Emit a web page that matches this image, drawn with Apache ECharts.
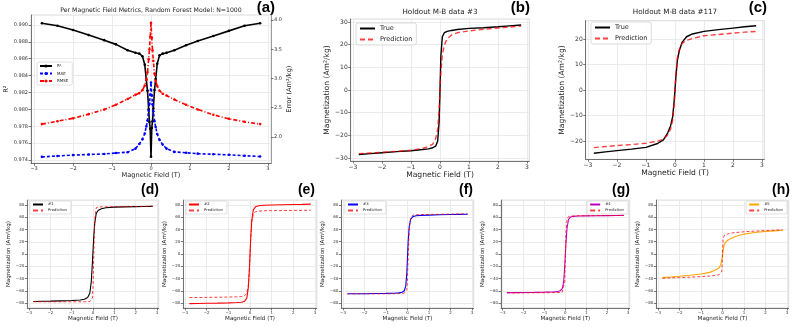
<!DOCTYPE html>
<html>
<head>
<meta charset="utf-8">
<script src="https://cdn.jsdelivr.net/npm/echarts@6/dist/echarts.min.js"></script>
<style>
  html, body { margin: 0; padding: 0; background: #fff; }
  #main { width: 793px; height: 327px; }
</style>
</head>
<body>
<div id="main"></div>
<script>
'use strict'
// ---- data ----
var fieldA = [-2.8,-2.4,-2,-1.6,-1.2,-0.9,-0.6,-0.4,-0.3,-0.22,-0.16,-0.12,-0.09,-0.06,-0.04,-0.02,0,
              0.02,0.04,0.06,0.09,0.12,0.16,0.22,0.3,0.4,0.6,0.9,1.2,1.6,2,2.4,2.8];
var r2   = [0.9902,0.9899,0.9894,0.9888,0.9882,0.9877,0.9870,0.9867,0.9866,0.9863,0.9853,0.9835,0.9822,0.9800,0.9785,0.9777,0.9744,
            0.9778,0.9786,0.9801,0.9823,0.9836,0.9854,0.9864,0.9866,0.9867,0.9870,0.9876,0.9881,0.9887,0.9893,0.9899,0.9902];
var mae  = [1.66,1.675,1.69,1.70,1.71,1.725,1.74,1.80,1.88,1.96,2.06,2.18,2.28,2.45,2.57,2.72,2.93,
            2.71,2.56,2.44,2.27,2.17,2.05,1.95,1.87,1.80,1.745,1.73,1.715,1.705,1.695,1.68,1.665];
var rmse = [2.22,2.27,2.32,2.39,2.47,2.55,2.65,2.72,2.75,2.80,2.88,2.98,3.10,3.33,3.50,3.71,3.95,
            3.70,3.48,3.30,3.08,2.96,2.87,2.79,2.74,2.71,2.64,2.55,2.47,2.38,2.31,2.26,2.22];

var field = [-2.8,-2.4,-2,-1.5,-1,-0.6,-0.4,-0.25,-0.15,-0.08,-0.03,0,0.03,0.08,0.15,0.25,0.4,0.6,1,1.5,2,2.4,2.8];
var true3   = [-28.5,-28.1,-27.7,-27.2,-26.8,-26.3,-26.0,-25.5,-24.8,-22.5,-14,0,15,23.5,25.3,25.9,26.3,26.7,27.2,27.5,27.9,28.3,28.7];
var pred3   = [-28.1,-27.8,-27.5,-27.1,-26.6,-25.8,-25.0,-23.9,-21.5,-17.5,-9,0,8,15.5,19.8,22.7,24.3,25.3,26.1,26.8,27.4,27.8,28.2];
var true117 = [-24.8,-24.3,-23.8,-23.2,-22.5,-21.0,-19.6,-16.8,-14.0,-10.5,-4.5,0,5,11.5,15.5,18.8,20.9,22.0,23.0,23.7,24.3,24.8,25.2];
var pred117 = [-22.6,-22.2,-21.8,-21.4,-20.9,-20.1,-19.3,-17.6,-15.2,-11.8,-5.5,0,6,12.5,16,18.4,19.5,20.2,21.3,21.8,22.3,22.7,23.0];
var m1 = [-77.5,-77.2,-77,-76.5,-76,-75,-74,-71,-64,-45,-15,5,25,50,66,71.5,74,75.5,76.5,77,77.3,77.5,77.8];
var p1 = [-78,-78,-78,-78,-78,-78,-78,-77.8,-77.5,-76.5,-72,-55,-10,55,75.5,76.8,77,77,77.2,77.4,77.6,77.8,78];
var m2 = [-81,-80.8,-80.5,-80.2,-79.8,-79.3,-78.7,-77,-72,-55,-25,0,25,55,72,77,78.8,79.5,80,80.5,80.8,81,81.5];
var p2 = [-71,-71,-70.8,-70.6,-70.3,-70,-69.5,-68,-64,-52,-25,0,25,52,65,69,70,70.5,70.8,71,71.2,71.3,71.5];
var m3 = [-65,-65,-64.8,-64.6,-64.3,-64,-63.5,-62.5,-60,-52,-30,-5,20,45,57,61,62.5,63,63.5,64,64.4,64.7,65];
var p3 = [-65,-65,-65,-65,-65,-64.8,-64.6,-64.3,-63.8,-62.5,-58,-40,-5,40,60,63.5,64,64.3,64.6,64.9,65.1,65.3,65.5];
var m4 = [-63,-63,-62.8,-62.6,-62.3,-62,-61.5,-60,-57,-45,-20,0,18,42,56,60.5,61.5,62,62.3,62.5,62.7,62.8,63];
var p4 = [-63.5,-63.5,-63.4,-63.3,-63.2,-63.1,-63,-62.8,-62.5,-60,-45,-5,35,57,61,62,62.2,62.4,62.5,62.6,62.7,62.8,63];
var m5 = [-38.5,-37.5,-36.3,-34.7,-32.7,-30,-27.5,-25,-22,-17,-9,-2,6,15,19.5,22.5,25.5,28.5,32.5,35,36.8,37.8,38.8];
var p5 = [-39.5,-39,-38.5,-37.8,-37,-36,-35.3,-34.5,-33.5,-32,-28,0,26,30,31.5,32.8,34,35,36.3,37.3,38.2,38.8,39.5];

// tick labels
var fieldTicks  = [-3,-2,-1,0,1,2,3];
var r2Ticks     = [0.974,0.976,0.978,0.980,0.982,0.984,0.986,0.988,0.990];
var errTicks    = [2.0,2.5,3.0,3.5,4.0];
var mb3Ticks    = [-30,-20,-10,0,10,20,30];
var mb117Ticks  = [-20,-10,0,10,20];
var smallTicks  = [-80,-60,-40,-20,0,20,40,60,80];

var FONT = 'DejaVu Sans';
var MAG = 'Magnetization (Am\u00b2/kg)';

function minus(v){ return v < 0 ? '\u2212' + Math.abs(v) : String(v); }
function pts(xs, ys){ return xs.map(function(x, i){ return [x, ys[i]]; }); }

function xAx(gi, fs, gap){
    return {
        type: 'value', gridIndex: gi, min: -3.08, max: 3.08,
        name: 'Magnetic Field (T)', nameLocation: 'middle', nameGap: gap,
        nameTextStyle: {fontFamily: FONT, fontSize: fs + 1.6, color: '#222'},
        axisLine: {onZero: false, lineStyle: {color: '#555', width: 0.8}},
        axisTick: {show: true, customValues: fieldTicks, length: 2.5, lineStyle: {color: '#555', width: 0.8}},
        axisLabel: {customValues: fieldTicks, formatter: minus, fontFamily: FONT, fontSize: fs, color: '#333', margin: 3},
        splitLine: {show: true, lineStyle: {color: '#e6e6e6', width: 0.8}}
    };
}
function yAx(gi, lo, hi, ticks, fs, name, gap, fmt){
    return {
        type: 'value', gridIndex: gi, min: lo, max: hi,
        name: name, nameLocation: 'middle', nameGap: gap,
        nameTextStyle: {fontFamily: FONT, fontSize: fs + 1.6, color: '#222'},
        axisLine: {show: true, onZero: false, lineStyle: {color: '#555', width: 0.8}},
        axisTick: {show: true, customValues: ticks, length: 2.5, lineStyle: {color: '#555', width: 0.8}},
        axisLabel: {customValues: ticks, formatter: fmt || minus, fontFamily: FONT, fontSize: fs, color: '#333', margin: 3},
        splitLine: {show: true, lineStyle: {color: '#e6e6e6', width: 0.8}}
    };
}
function ln(name, xi, yi, xs, ys, color, width, dash){
    return {
        name: name, type: 'line', xAxisIndex: xi, yAxisIndex: yi,
        data: pts(xs, ys), symbol: 'none', silent: true,
        lineStyle: {color: color, width: width, type: dash || 'solid'},
        itemStyle: {color: color}
    };
}
function dotLn(name, yi, ys, color, dash){
    var s = ln(name, 0, yi, fieldA, ys, color, 1.6, dash);
    s.symbol = 'circle'; s.symbolSize = 2.6; s.showSymbol = true;
    return s;
}
// legend of plain lines: hide the circle echarts puts in the icon
var noDot = {opacity: 0};
function smallLegend(names, pos){
    var l = {
        orient: 'vertical', data: names, top: 201,
        itemWidth: 10, itemHeight: 3, itemGap: 2, itemStyle: noDot,
        textStyle: {fontFamily: FONT, fontSize: 3.8, color: '#222'},
        padding: [1.5, 4, 1.5, 2], borderColor: '#ccc', borderWidth: 0.6, borderRadius: 1,
        backgroundColor: 'rgba(255,255,255,0.85)'
    };
    for (var k in pos) l[k] = pos[k];
    return l;
}
function label(txt, x, y, size){
    return {type: 'text', x: x, y: y, silent: true,
        style: {text: txt, fill: '#000', font: 'bold ' + size + 'px "Liberation Sans"',
                align: 'right', textAlign: 'right', verticalAlign: 'middle', textVerticalAlign: 'middle'}};
}
function title(txt, x, y, size){
    return {type: 'text', x: x, y: y, silent: true,
        style: {text: txt, fill: '#222', font: size + 'px "' + FONT + '"',
                align: 'center', textAlign: 'center', verticalAlign: 'middle', textVerticalAlign: 'middle'}};
}

var PRED = 'rgba(255,0,0,0.75)';
var gridBase = {show: true, borderColor: '#d0d0d0', borderWidth: 0.8, containLabel: false};
function grid(l, t, w, h){ return Object.assign({left: l, top: t, width: w, height: h}, gridBase); }

var myChart = echarts.init(document.getElementById('main'), null, {renderer: 'canvas'});
myChart.setOption({
    animation: false,
    backgroundColor: '#fff',
    grid: [
        grid(31, 15, 240, 148.3),
        grid(350.7, 19, 178.6, 142),
        grid(585.7, 20.7, 178.6, 138.6),
        grid(27.3, 200.1, 131.4, 107.8),
        grid(183.3, 200.1, 133.5, 107.8),
        grid(341.3, 200.1, 132.4, 107.8),
        grid(501, 200.1, 128.7, 107.8),
        grid(656.3, 200.1, 132.4, 107.8)
    ],
    xAxis: [
        xAx(0, 5, 6), xAx(1, 6, 7), xAx(2, 6, 7),
        xAx(3, 4, 6), xAx(4, 4, 6), xAx(5, 4, 6), xAx(6, 4, 6), xAx(7, 4, 6)
    ],
    yAxis: [
        yAx(0, 0.97361, 0.99118, r2Ticks, 5, 'R\u00b2', 20, function(v){ return v.toFixed(3); }),
        (function(){
            var a = yAx(0, 1.55, 4.085, errTicks, 5, 'Error (Am\u00b2/kg)', 12, function(v){ return v.toFixed(1); });
            a.position = 'right';
            a.splitLine = {show: false};
            a.axisLine.lineStyle.color = '#888';
            return a;
        })(),
        yAx(1, -31.35, 31.35, mb3Ticks, 6, MAG, 14),
        yAx(2, -27.2, 27.2, mb117Ticks, 6, MAG, 14),
        yAx(3, -88, 88, smallTicks, 4, MAG, 11),
        yAx(4, -88, 88, smallTicks, 4, MAG, 11),
        yAx(5, -88, 88, smallTicks, 4, MAG, 11),
        yAx(6, -88, 88, smallTicks, 4, MAG, 11),
        yAx(7, -88, 88, smallTicks, 4, MAG, 11)
    ],
    legend: [
        {orient: 'vertical', left: 37, top: 62, data: ['R\u00b2', 'MAE', 'RMSE'],
         itemWidth: 12, itemHeight: 4, itemGap: 3.5,
         textStyle: {fontFamily: FONT, fontSize: 4, color: '#222'},
         padding: [2, 4, 2, 2], borderColor: '#ccc', borderWidth: 0.6, borderRadius: 1.5,
         backgroundColor: 'rgba(255,255,255,0.85)'},
        {orient: 'vertical', left: 356, top: 23, data: ['True', 'Prediction'],
         itemWidth: 15, itemHeight: 6, itemGap: 4, itemStyle: noDot,
         textStyle: {fontFamily: FONT, fontSize: 6.5, color: '#222'},
         padding: [2, 4, 2, 3], borderColor: '#ccc', borderWidth: 0.7, borderRadius: 2,
         backgroundColor: 'rgba(255,255,255,0.85)'},
        {orient: 'vertical', left: 591, top: 22, data: ['True', 'Prediction'],
         itemWidth: 15, itemHeight: 6, itemGap: 4, itemStyle: noDot,
         textStyle: {fontFamily: FONT, fontSize: 6.5, color: '#222'},
         padding: [2, 4, 2, 3], borderColor: '#ccc', borderWidth: 0.7, borderRadius: 2,
         backgroundColor: 'rgba(255,255,255,0.85)'},
        smallLegend(['#1', 'Prediction'], {left: 30}),
        smallLegend(['#2', 'Prediction'], {left: 186}),
        smallLegend(['#3', 'Prediction'], {left: 345}),
        smallLegend(['#4', 'Prediction'], {right: 165}),
        smallLegend(['#5', 'Prediction'], {right: 6})
    ],
    graphic: [
        title('Per Magnetic Field Metrics, Random Forest Model: N=1000', 151, 10, 6.2),
        title('Holdout M-B data #3', 440, 12, 7.2),
        title('Holdout M-B data #117', 675, 12, 7.2),
        label('(a)', 275, 8, 15), label('(b)', 530, 8, 15), label('(c)', 767, 8, 15),
        label('(d)', 159, 190, 14), label('(e)', 315, 190, 14), label('(f)', 473, 190, 14),
        label('(g)', 630, 190, 14), label('(h)', 790, 190, 14)
    ],
    series: [
        dotLn('R\u00b2', 0, r2, '#000000', 'solid'),
        dotLn('MAE', 1, mae, '#0000ff', [3, 2]),
        dotLn('RMSE', 1, rmse, '#ff0000', [4, 2, 1, 2]),

        ln('True', 1, 2, field, true3, '#000000', 1.4),
        ln('Prediction', 1, 2, field, pred3, PRED, 1.4, [5, 3]),
        ln('True', 2, 3, field, true117, '#000000', 1.4),
        ln('Prediction', 2, 3, field, pred117, PRED, 1.4, [5, 3]),

        ln('#1', 3, 4, field, m1, '#000000', 1.1),
        ln('Prediction', 3, 4, field, p1, PRED, 1, [3, 2]),
        ln('#2', 4, 5, field, m2, '#ff0000', 1.1),
        ln('Prediction', 4, 5, field, p2, PRED, 1, [3, 2]),
        ln('#3', 5, 6, field, m3, '#0000ff', 1.1),
        ln('Prediction', 5, 6, field, p3, PRED, 1, [3, 2]),
        ln('#4', 6, 7, field, m4, '#c000c0', 1.1),
        ln('Prediction', 6, 7, field, p4, PRED, 1, [3, 2]),
        ln('#5', 7, 8, field, m5, '#ffa500', 1.1),
        ln('Prediction', 7, 8, field, p5, PRED, 1, [3, 2])
    ]
});
</script>
</body>
</html>
